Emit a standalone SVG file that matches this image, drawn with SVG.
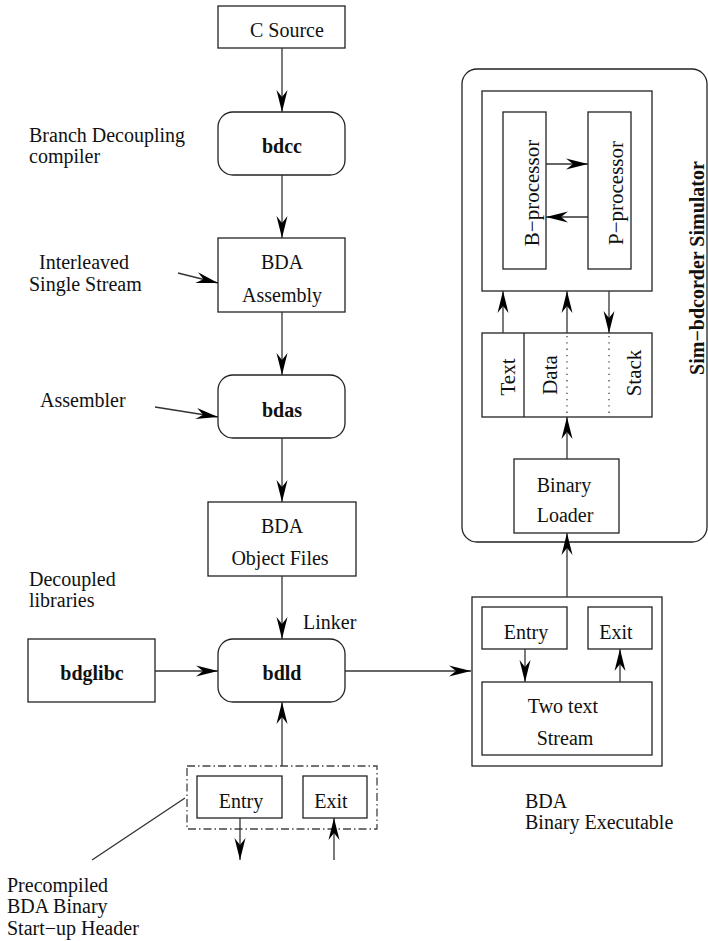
<svg xmlns="http://www.w3.org/2000/svg" width="708" height="941" viewBox="0 0 708 941">
  <defs>
    <style>
      .box { fill: none; stroke: #222; stroke-width: 1.3; }
      .conn { fill: none; stroke: #333; stroke-width: 1.3; }
      .arr { marker-end: url(#head); }
      .dashdot { fill: none; stroke: #444; stroke-width: 1.3; stroke-dasharray: 8 3 1.5 3; }
      .dots { fill: none; stroke: #444; stroke-width: 1.3; stroke-dasharray: 1.3 5; }
      text { font-family: "Liberation Serif", "Times New Roman", serif; font-size: 20px; fill: #111; }
      .b { font-weight: bold; }
      .c { text-anchor: middle; }
    </style>
    <marker id="head" viewBox="-23 -7 24 14" refX="0" refY="0" markerWidth="24" markerHeight="14" markerUnits="userSpaceOnUse" orient="auto">
      <path d="M0,0 L-22,-5.5 L-15,0 L-22,5.5 Z" fill="#000"/>
    </marker>
  </defs>

  <!-- toolchain column -->
  <g id="c-source">
    <rect class="box" x="218" y="6" width="127" height="42"/>
    <text x="250" y="37">C Source</text>
  </g>
  <g id="bdcc">
    <rect class="box" x="218" y="112" width="127" height="63" rx="15"/>
    <text class="b c" x="282" y="153">bdcc</text>
  </g>
  <g id="label-compiler">
    <text x="29" y="142">Branch Decoupling</text>
    <text x="29" y="163">compiler</text>
  </g>
  <g id="bda-assembly">
    <rect class="box" x="218" y="238" width="127" height="74"/>
    <text class="c" x="282" y="269">BDA</text>
    <text class="c" x="282" y="302">Assembly</text>
  </g>
  <g id="label-interleaved">
    <text x="39" y="269">Interleaved</text>
    <text x="29" y="291">Single Stream</text>
  </g>
  <g id="bdas">
    <rect class="box" x="218" y="375" width="127" height="63" rx="15"/>
    <text class="b c" x="282" y="417">bdas</text>
  </g>
  <g id="label-assembler">
    <text x="40" y="407">Assembler</text>
  </g>
  <g id="bda-object-files">
    <rect class="box" x="208" y="502" width="148" height="74"/>
    <text class="c" x="282" y="533">BDA</text>
    <text class="c" x="280" y="565">Object Files</text>
  </g>
  <g id="label-libraries">
    <text x="29" y="586">Decoupled</text>
    <text x="29" y="607">libraries</text>
  </g>
  <g id="label-linker">
    <text x="303" y="629">Linker</text>
  </g>
  <g id="bdld">
    <rect class="box" x="218" y="639" width="127" height="63" rx="15"/>
    <text class="b c" x="282" y="680">bdld</text>
  </g>
  <g id="bdglibc">
    <rect class="box" x="28" y="639" width="127" height="63"/>
    <text class="b c" x="92" y="680">bdglibc</text>
  </g>

  <!-- precompiled start-up header -->
  <g id="startup-header">
    <rect class="dashdot" x="187" y="766" width="190" height="63"/>
    <rect class="box" x="197" y="776" width="85" height="42"/>
    <text class="c" x="241" y="808">Entry</text>
    <rect class="box" x="303" y="776" width="64" height="42"/>
    <text class="c" x="331" y="808">Exit</text>
  </g>
  <g id="label-precompiled">
    <text x="7" y="892">Precompiled</text>
    <text x="7" y="913">BDA Binary</text>
    <text x="7" y="935">Start−up Header</text>
  </g>

  <!-- executable -->
  <g id="bda-executable">
    <rect class="box" x="472" y="597" width="190" height="169"/>
    <rect class="box" x="482" y="607" width="85" height="42"/>
    <text class="c" x="526" y="639">Entry</text>
    <rect class="box" x="588" y="607" width="64" height="42"/>
    <text class="c" x="616" y="639">Exit</text>
    <rect class="box" x="482" y="682" width="170" height="73"/>
    <text class="c" x="563" y="713">Two text</text>
    <text class="c" x="565" y="745">Stream</text>
  </g>
  <g id="label-executable">
    <text x="525" y="808">BDA</text>
    <text x="525" y="829">Binary Executable</text>
  </g>

  <!-- simulator -->
  <g id="simulator">
    <rect class="box" x="462" y="69" width="245" height="473" rx="15"/>
    <text class="b c" transform="translate(704,268) rotate(-90)">Sim−bdcorder Simulator</text>
  </g>
  <g id="processors">
    <rect class="box" x="482" y="91" width="170" height="200"/>
    <rect class="box" x="503" y="112" width="43" height="157"/>
    <text class="c" transform="translate(539,193) rotate(-90)" style="font-size:21px">B−processor</text>
    <rect class="box" x="588" y="112" width="43" height="157"/>
    <text class="c" transform="translate(623,193) rotate(-90)" style="font-size:21px">P−processor</text>
  </g>
  <g id="memory">
    <rect class="box" x="482" y="333" width="170" height="84"/>
    <line class="box" x1="524" y1="333" x2="524" y2="417"/>
    <line class="dots" x1="567" y1="336" x2="567" y2="417"/>
    <line class="dots" x1="609" y1="336" x2="609" y2="417"/>
    <text class="c" transform="translate(515,377) rotate(-90)" style="font-size:21px">Text</text>
    <text class="c" transform="translate(557,375) rotate(-90)" style="font-size:21px">Data</text>
    <text class="c" transform="translate(641,373) rotate(-90)" style="font-size:21px">Stack</text>
  </g>
  <g id="binary-loader">
    <rect class="box" x="514" y="459" width="105" height="74"/>
    <text class="c" x="564" y="492">Binary</text>
    <text class="c" x="565" y="522">Loader</text>
  </g>

  <!-- connectors -->
  <g id="connectors">
    <line class="conn arr" x1="282" y1="48" x2="282" y2="112"/>
    <line class="conn arr" x1="282" y1="175" x2="282" y2="238"/>
    <line class="conn arr" x1="178" y1="273" x2="218" y2="283"/>
    <line class="conn arr" x1="282" y1="312" x2="282" y2="375"/>
    <line class="conn arr" x1="155" y1="407" x2="218" y2="417"/>
    <line class="conn arr" x1="282" y1="438" x2="282" y2="502"/>
    <line class="conn arr" x1="282" y1="576" x2="282" y2="639"/>
    <line class="conn arr" x1="155" y1="671" x2="218" y2="671"/>
    <line class="conn arr" x1="345" y1="671" x2="471" y2="671"/>
    <line class="conn arr" x1="282" y1="766" x2="282" y2="702"/>
    <line class="conn arr" x1="240" y1="818" x2="240" y2="860"/>
    <line class="conn arr" x1="334" y1="860" x2="334" y2="818"/>
    <line class="conn" x1="92" y1="860" x2="185" y2="798"/>
    <line class="conn arr" x1="567" y1="597" x2="567" y2="533"/>
    <line class="conn arr" x1="567" y1="459" x2="567" y2="417"/>
    <line class="conn arr" x1="503" y1="333" x2="503" y2="291"/>
    <line class="conn arr" x1="567" y1="333" x2="567" y2="291"/>
    <line class="conn arr" x1="609" y1="291" x2="609" y2="333"/>
    <line class="conn arr" x1="546" y1="164" x2="588" y2="164"/>
    <line class="conn arr" x1="588" y1="217" x2="546" y2="217"/>
    <line class="conn arr" x1="525" y1="649" x2="525" y2="682"/>
    <line class="conn arr" x1="620" y1="682" x2="620" y2="649"/>
  </g>
</svg>
